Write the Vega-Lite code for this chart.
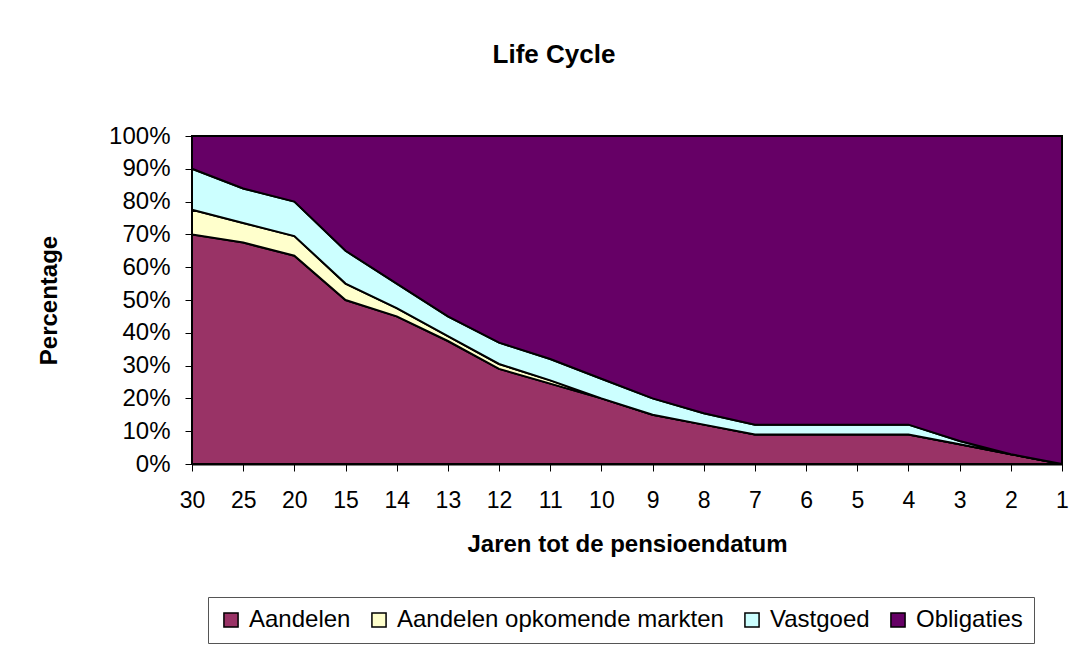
{
  "$schema": "https://vega.github.io/schema/vega-lite/v6.json",
  "width": 870,
  "height": 328,
  "autosize": {"type": "none"},
  "padding": {"left": 192, "top": 136, "right": 26, "bottom": 182},
  "background": "white",
  "config": {
    "font": "Liberation Sans",
    "view": {"stroke": "black", "strokeWidth": 2},
    "axis": {"grid": false, "domainColor": "black", "tickColor": "black", "labelColor": "black", "titleColor": "black", "labelFont": "Liberation Sans", "titleFont": "Liberation Sans"}
  },
  "title": {"text": "Life Cycle", "fontSize": 26, "fontWeight": "bold", "font": "Liberation Sans", "color": "black", "anchor": "middle", "frame": "group", "dx": -73, "offset": 56},
  "data": {"values": [
    {"jaren": 30, "categorie": "Aandelen", "volgorde": 1, "pct": 70},
    {"jaren": 30, "categorie": "Aandelen opkomende markten", "volgorde": 2, "pct": 7.5},
    {"jaren": 30, "categorie": "Vastgoed", "volgorde": 3, "pct": 12.5},
    {"jaren": 30, "categorie": "Obligaties", "volgorde": 4, "pct": 10},
    {"jaren": 25, "categorie": "Aandelen", "volgorde": 1, "pct": 67.5},
    {"jaren": 25, "categorie": "Aandelen opkomende markten", "volgorde": 2, "pct": 6},
    {"jaren": 25, "categorie": "Vastgoed", "volgorde": 3, "pct": 10.5},
    {"jaren": 25, "categorie": "Obligaties", "volgorde": 4, "pct": 16},
    {"jaren": 20, "categorie": "Aandelen", "volgorde": 1, "pct": 63.5},
    {"jaren": 20, "categorie": "Aandelen opkomende markten", "volgorde": 2, "pct": 6},
    {"jaren": 20, "categorie": "Vastgoed", "volgorde": 3, "pct": 10.5},
    {"jaren": 20, "categorie": "Obligaties", "volgorde": 4, "pct": 20},
    {"jaren": 15, "categorie": "Aandelen", "volgorde": 1, "pct": 50},
    {"jaren": 15, "categorie": "Aandelen opkomende markten", "volgorde": 2, "pct": 5},
    {"jaren": 15, "categorie": "Vastgoed", "volgorde": 3, "pct": 10},
    {"jaren": 15, "categorie": "Obligaties", "volgorde": 4, "pct": 35},
    {"jaren": 14, "categorie": "Aandelen", "volgorde": 1, "pct": 45},
    {"jaren": 14, "categorie": "Aandelen opkomende markten", "volgorde": 2, "pct": 2.5},
    {"jaren": 14, "categorie": "Vastgoed", "volgorde": 3, "pct": 7.5},
    {"jaren": 14, "categorie": "Obligaties", "volgorde": 4, "pct": 45},
    {"jaren": 13, "categorie": "Aandelen", "volgorde": 1, "pct": 37.5},
    {"jaren": 13, "categorie": "Aandelen opkomende markten", "volgorde": 2, "pct": 1.5},
    {"jaren": 13, "categorie": "Vastgoed", "volgorde": 3, "pct": 6},
    {"jaren": 13, "categorie": "Obligaties", "volgorde": 4, "pct": 55},
    {"jaren": 12, "categorie": "Aandelen", "volgorde": 1, "pct": 29},
    {"jaren": 12, "categorie": "Aandelen opkomende markten", "volgorde": 2, "pct": 1.5},
    {"jaren": 12, "categorie": "Vastgoed", "volgorde": 3, "pct": 6.5},
    {"jaren": 12, "categorie": "Obligaties", "volgorde": 4, "pct": 63},
    {"jaren": 11, "categorie": "Aandelen", "volgorde": 1, "pct": 24.5},
    {"jaren": 11, "categorie": "Aandelen opkomende markten", "volgorde": 2, "pct": 1},
    {"jaren": 11, "categorie": "Vastgoed", "volgorde": 3, "pct": 6.5},
    {"jaren": 11, "categorie": "Obligaties", "volgorde": 4, "pct": 68},
    {"jaren": 10, "categorie": "Aandelen", "volgorde": 1, "pct": 20},
    {"jaren": 10, "categorie": "Aandelen opkomende markten", "volgorde": 2, "pct": 0},
    {"jaren": 10, "categorie": "Vastgoed", "volgorde": 3, "pct": 6},
    {"jaren": 10, "categorie": "Obligaties", "volgorde": 4, "pct": 74},
    {"jaren": 9, "categorie": "Aandelen", "volgorde": 1, "pct": 15},
    {"jaren": 9, "categorie": "Aandelen opkomende markten", "volgorde": 2, "pct": 0},
    {"jaren": 9, "categorie": "Vastgoed", "volgorde": 3, "pct": 5},
    {"jaren": 9, "categorie": "Obligaties", "volgorde": 4, "pct": 80},
    {"jaren": 8, "categorie": "Aandelen", "volgorde": 1, "pct": 12},
    {"jaren": 8, "categorie": "Aandelen opkomende markten", "volgorde": 2, "pct": 0},
    {"jaren": 8, "categorie": "Vastgoed", "volgorde": 3, "pct": 3.5},
    {"jaren": 8, "categorie": "Obligaties", "volgorde": 4, "pct": 84.5},
    {"jaren": 7, "categorie": "Aandelen", "volgorde": 1, "pct": 9},
    {"jaren": 7, "categorie": "Aandelen opkomende markten", "volgorde": 2, "pct": 0},
    {"jaren": 7, "categorie": "Vastgoed", "volgorde": 3, "pct": 3},
    {"jaren": 7, "categorie": "Obligaties", "volgorde": 4, "pct": 88},
    {"jaren": 6, "categorie": "Aandelen", "volgorde": 1, "pct": 9},
    {"jaren": 6, "categorie": "Aandelen opkomende markten", "volgorde": 2, "pct": 0},
    {"jaren": 6, "categorie": "Vastgoed", "volgorde": 3, "pct": 3},
    {"jaren": 6, "categorie": "Obligaties", "volgorde": 4, "pct": 88},
    {"jaren": 5, "categorie": "Aandelen", "volgorde": 1, "pct": 9},
    {"jaren": 5, "categorie": "Aandelen opkomende markten", "volgorde": 2, "pct": 0},
    {"jaren": 5, "categorie": "Vastgoed", "volgorde": 3, "pct": 3},
    {"jaren": 5, "categorie": "Obligaties", "volgorde": 4, "pct": 88},
    {"jaren": 4, "categorie": "Aandelen", "volgorde": 1, "pct": 9},
    {"jaren": 4, "categorie": "Aandelen opkomende markten", "volgorde": 2, "pct": 0},
    {"jaren": 4, "categorie": "Vastgoed", "volgorde": 3, "pct": 3},
    {"jaren": 4, "categorie": "Obligaties", "volgorde": 4, "pct": 88},
    {"jaren": 3, "categorie": "Aandelen", "volgorde": 1, "pct": 6},
    {"jaren": 3, "categorie": "Aandelen opkomende markten", "volgorde": 2, "pct": 0},
    {"jaren": 3, "categorie": "Vastgoed", "volgorde": 3, "pct": 1},
    {"jaren": 3, "categorie": "Obligaties", "volgorde": 4, "pct": 93},
    {"jaren": 2, "categorie": "Aandelen", "volgorde": 1, "pct": 3},
    {"jaren": 2, "categorie": "Aandelen opkomende markten", "volgorde": 2, "pct": 0},
    {"jaren": 2, "categorie": "Vastgoed", "volgorde": 3, "pct": 0},
    {"jaren": 2, "categorie": "Obligaties", "volgorde": 4, "pct": 97},
    {"jaren": 1, "categorie": "Aandelen", "volgorde": 1, "pct": 0},
    {"jaren": 1, "categorie": "Aandelen opkomende markten", "volgorde": 2, "pct": 0},
    {"jaren": 1, "categorie": "Vastgoed", "volgorde": 3, "pct": 0},
    {"jaren": 1, "categorie": "Obligaties", "volgorde": 4, "pct": 100}
  ]},
  "mark": {"type": "area", "stroke": "black", "strokeWidth": 2, "strokeJoin": "miter", "opacity": 1, "fillOpacity": 1},
  "encoding": {
    "x": {
      "field": "jaren", "type": "ordinal",
      "sort": [30, 25, 20, 15, 14, 13, 12, 11, 10, 9, 8, 7, 6, 5, 4, 3, 2, 1],
      "scale": {"type": "point", "padding": 0},
      "axis": {"title": "Jaren tot de pensioendatum", "titleFontSize": 24, "titleFontWeight": "bold", "titlePadding": 20, "labelFontSize": 23, "labelAngle": 0, "labelPadding": 18, "tickSize": 7, "domainWidth": 2}
    },
    "y": {
      "field": "pct", "type": "quantitative", "stack": "zero",
      "scale": {"domain": [0, 100], "nice": false},
      "axis": {"title": "Percentage", "titleFontSize": 24, "titleFontWeight": "bold", "titlePadding": 47, "labelFontSize": 24, "labelPadding": 15, "tickSize": 7, "values": [0, 10, 20, 30, 40, 50, 60, 70, 80, 90, 100], "labelExpr": "datum.value + '%'", "domainWidth": 2}
    },
    "color": {
      "field": "categorie", "type": "nominal",
      "scale": {"domain": ["Aandelen", "Aandelen opkomende markten", "Vastgoed", "Obligaties"], "range": ["#993366", "#FFFFCC", "#CCFFFF", "#660066"]},
      "legend": {"title": null, "orient": "none", "legendX": 16, "legendY": 461, "direction": "horizontal", "symbolType": "square", "symbolSize": 200, "symbolStrokeColor": "black", "symbolStrokeWidth": 1.5, "symbolOpacity": 1, "labelFontSize": 24, "labelLimit": 0, "labelColor": "black", "labelFont": "Liberation Sans", "columnPadding": 16, "labelOffset": 6, "fillColor": "white", "strokeColor": "#555555", "padding": 11, "symbolOffset": 0}
    },
    "order": {"field": "volgorde", "type": "quantitative"}
  }
}
